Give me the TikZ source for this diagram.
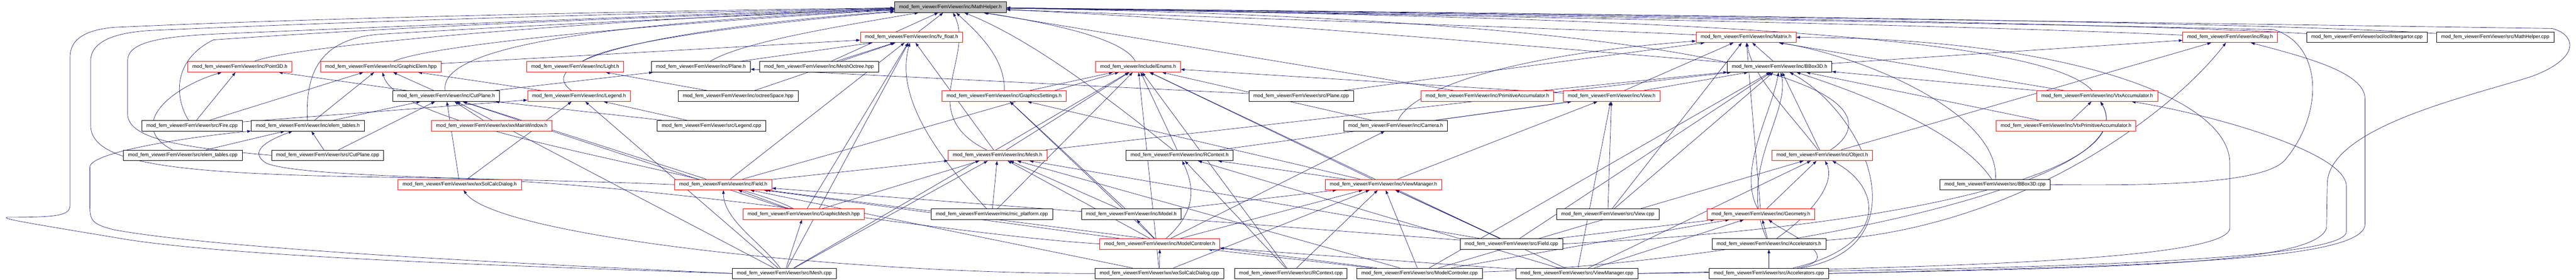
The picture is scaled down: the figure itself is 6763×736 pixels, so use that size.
\documentclass[tikz,border=0pt]{standalone}
\usepackage{fontspec}
\setmainfont{Liberation Sans}
\usetikzlibrary{arrows.meta,backgrounds}
\definecolor{edgeblue}{HTML}{191970}
\definecolor{rootgray}{HTML}{BFBFBF}

\begin{document}
\begin{tikzpicture}[x=1pt,y=-1pt,
  file/.style={draw=black,fill=white,line width=1pt,inner xsep=12pt,minimum height=28pt,
    font=\fontsize{13}{15}\selectfont},
  redfile/.style={file,draw=red},
  rootfile/.style={file,fill=rootgray},
  dep/.style={draw=edgeblue,line width=0.9pt,-{Triangle[length=10pt,width=7pt]}}]
\useasboundingbox (0,0) rectangle (6763,736);

%Draw Root
\node[rootfile] (mathh) at (2495,19) {mod\_fem\_viewer/FemViewer/inc/MathHelper.h};

%Draw First Row
\node[redfile] (fvfloat) at (2393,98) {mod\_fem\_viewer/FemViewer/inc/fv\_float.h};
\node[redfile] (matrix) at (4584,98) {mod\_fem\_viewer/FemViewer/inc/Matrix.h};
\node[redfile] (ray) at (5855,98) {mod\_fem\_viewer/FemViewer/inc/Ray.h};
\node[file] (oclint) at (6214,98) {mod\_fem\_viewer/FemViewer/ocl/oclIntergartor.cpp};
\node[file] (mathcpp) at (6551,98) {mod\_fem\_viewer/FemViewer/src/MathHelper.cpp};

%Draw Second Row
\node[redfile] (point3d) at (630,176) {mod\_fem\_viewer/FemViewer/inc/Point3D.h};
\node[redfile] (graphelem) at (1000,176) {mod\_fem\_viewer/FemViewer/inc/GraphicElem.hpp};
\node[redfile] (light) at (1510,176) {mod\_fem\_viewer/FemViewer/inc/Light.h};
\node[file] (plane) at (1840,176) {mod\_fem\_viewer/FemViewer/inc/Plane.h};
\node[file] (meshoctree) at (2150,176) {mod\_fem\_viewer/FemViewer/inc/MeshOctree.hpp};
\node[redfile] (enums) at (2988,176) {mod\_fem\_viewer/include/Enums.h};
\node[file] (bbox) at (4672,176) {mod\_fem\_viewer/FemViewer/inc/BBox3D.h};

%Draw Third Row
\node[file] (cutplaneh) at (1171,253) {mod\_fem\_viewer/FemViewer/inc/CutPlane.h};
\node[redfile] (legendh) at (1520,253) {mod\_fem\_viewer/FemViewer/inc/Legend.h};
\node[file] (octree) at (1938,253) {mod\_fem\_viewer/FemViewer/inc/octreeSpace.hpp};
\node[redfile] (gsettings) at (2636,253) {mod\_fem\_viewer/FemViewer/inc/GraphicsSettings.h};
\node[file] (planecpp) at (3416,253) {mod\_fem\_viewer/FemViewer/src/Plane.cpp};
\node[redfile] (primacc) at (3905,253) {mod\_fem\_viewer/FemViewer/inc/PrimitiveAccumulator.h};
\node[redfile] (viewh) at (4231,253) {mod\_fem\_viewer/FemViewer/inc/View.h};
\node[redfile] (vtxacc) at (5506,253) {mod\_fem\_viewer/FemViewer/inc/VtxAccumulator.h};

%Draw Fourth Row
\node[file] (firecpp) at (504,331) {mod\_fem\_viewer/FemViewer/src/Fire.cpp};
\node[file] (elemtablesh) at (808,331) {mod\_fem\_viewer/FemViewer/inc/elem\_tables.h};
\node[redfile] (wxmain) at (1291,331) {mod\_fem\_viewer/FemViewer/wx/wxMainWindow.h};
\node[file] (legendcpp) at (1868,331) {mod\_fem\_viewer/FemViewer/src/Legend.cpp};
\node[file] (camera) at (3664,331) {mod\_fem\_viewer/FemViewer/inc/Camera.h};
\node[redfile] (vtxprim) at (5424,331) {mod\_fem\_viewer/FemViewer/inc/VtxPrimitiveAccumulator.h};

%Draw Fifth Row
\node[file] (elemtablescpp) at (480,409) {mod\_fem\_viewer/FemViewer/src/elem\_tables.cpp};
\node[file] (cutplanecpp) at (860,409) {mod\_fem\_viewer/FemViewer/src/CutPlane.cpp};
\node[redfile] (meshh) at (2619,409) {mod\_fem\_viewer/FemViewer/inc/Mesh.h};
\node[file] (rcontexth) at (3097,409) {mod\_fem\_viewer/FemViewer/inc/RContext.h};
\node[redfile] (objecth) at (4784,409) {mod\_fem\_viewer/FemViewer/inc/Object.h};

%Draw Sixth Row
\node[redfile] (wxsolh) at (1207,486) {mod\_fem\_viewer/FemViewer/wx/wxSolCalcDialog.h};
\node[redfile] (fieldh) at (1899,486) {mod\_fem\_viewer/FemViewer/inc/Field.h};
\node[redfile] (viewmgrh) at (3632,486) {mod\_fem\_viewer/FemViewer/inc/ViewManager.h};
\node[file] (bboxcpp) at (5238,486) {mod\_fem\_viewer/FemViewer/src/BBox3D.cpp};

%Draw Seventh Row
\node[redfile] (graphmesh) at (2110,564) {mod\_fem\_viewer/FemViewer/inc/GraphicMesh.hpp};
\node[file] (micplat) at (2604,564) {mod\_fem\_viewer/FemViewer/mic/mic\_platform.cpp};
\node[file] (modelh) at (2970,564) {mod\_fem\_viewer/FemViewer/inc/Model.h};
\node[file] (viewcpp) at (4221,564) {mod\_fem\_viewer/FemViewer/src/View.cpp};
\node[redfile] (geometryh) at (4623,564) {mod\_fem\_viewer/FemViewer/inc/Geometry.h};

%Draw Eighth Row
\node[redfile] (modelctrlh) at (3045,642) {mod\_fem\_viewer/FemViewer/inc/ModelControler.h};
\node[file] (fieldcpp) at (3968,642) {mod\_fem\_viewer/FemViewer/src/Field.cpp};
\node[file] (accelh) at (4644,642) {mod\_fem\_viewer/FemViewer/inc/Accelerators.h};

%Draw Bottom Row
\node[file] (meshcpp) at (2059,720) {mod\_fem\_viewer/FemViewer/src/Mesh.cpp};
\node[file] (wxsolcpp) at (3044,720) {mod\_fem\_viewer/FemViewer/wx/wxSolCalcDialog.cpp};
\node[file] (rcontextcpp) at (3389,720) {mod\_fem\_viewer/FemViewer/src/RContext.cpp};
\node[file] (modelctrlcpp) at (3727,720) {mod\_fem\_viewer/FemViewer/src/ModelControler.cpp};
\node[file] (viewmgrcpp) at (4140,720) {mod\_fem\_viewer/FemViewer/src/ViewManager.cpp};
\node[file] (accelcpp) at (4644,720) {mod\_fem\_viewer/FemViewer/src/Accelerators.cpp};

\begin{pgfonlayer}{background}
%Draw First Row Edges
\draw[dep] (fvfloat) -- (mathh);
\draw[dep] (matrix) .. controls (4000,70) and (3000,40) .. (mathh);
\draw[dep] (ray) .. controls (5000,60) and (3500,35) .. (mathh);
\draw[dep] (oclint) .. controls (5500,55) and (3500,32) .. (mathh);
\draw[dep] (mathcpp) .. controls (5800,50) and (3500,30) .. (mathh);

%Draw Second Row Edges
\draw[dep] (point3d) .. controls (800,110) and (1800,40) .. (mathh);
\draw[dep] (graphelem) .. controls (1150,110) and (1900,50) .. (mathh);
\draw[dep] (graphelem) -- (fvfloat);
\draw[dep] (light) .. controls (1600,110) and (2000,60) .. (mathh);
\draw[dep] (plane) .. controls (1950,110) and (2200,70) .. (mathh);
\draw[dep] (plane) -- (fvfloat);
\draw[dep] (meshoctree) -- (mathh);
\draw[dep] (meshoctree) -- (fvfloat);
\draw[dep] (enums) .. controls (2950,100) and (2750,60) .. (mathh);
\draw[dep] (bbox) .. controls (4000,120) and (3200,50) .. (mathh);
\draw[dep] (bbox) -- (matrix);
\draw[dep] (bbox) -- (ray);

%Draw Third Row Edges
\draw[dep] (cutplaneh) .. controls (1150,120) and (1600,60) .. (mathh);
\draw[dep] (cutplaneh) -- (point3d);
\draw[dep] (cutplaneh) -- (graphelem);
\draw[dep] (cutplaneh) -- (plane);
\draw[dep] (legendh) .. controls (1380,150) and (1800,70) .. (mathh);
\draw[dep] (legendh) -- (graphelem);
\draw[dep] (octree) -- (light);
\draw[dep] (octree) -- (fvfloat);
\draw[dep] (gsettings) .. controls (2640,150) and (2560,80) .. (mathh);
\draw[dep] (gsettings) -- (enums);
\draw[dep] (planecpp) -- (plane);
\draw[dep] (planecpp) -- (matrix);
\draw[dep] (primacc) -- (mathh);
\draw[dep] (primacc) -- (bbox);
\draw[dep] (viewh) -- (enums);
\draw[dep] (viewh) -- (matrix);
\draw[dep] (viewh) -- (bbox);
\draw[dep] (vtxacc) .. controls (5350,80) and (4200,45) .. (mathh);
\draw[dep] (vtxacc) -- (matrix);
\draw[dep] (vtxacc) -- (bbox);

%Draw Fourth Row Edges
\draw[dep] (firecpp) .. controls (460,260) and (450,160) .. (560,105) .. controls (1200,60) and (2000,35) .. (mathh);
\draw[dep] (firecpp) -- (point3d);
\draw[dep] (firecpp) -- (graphelem);
\draw[dep] (firecpp) -- (legendh);
\draw[dep] (elemtablesh) .. controls (800,180) and (850,100) .. (1000,90) .. controls (1500,60) and (2100,35) .. (mathh);
\draw[dep] (elemtablesh) -- (graphelem);
\draw[dep] (elemtablesh) -- (cutplaneh);
\draw[dep] (wxmain) -- (cutplaneh);
\draw[dep] (legendcpp) -- (legendh);
\draw[dep] (legendcpp) -- (cutplaneh);
\draw[dep] (camera) .. controls (3700,250) and (3900,150) .. (matrix);
\draw[dep] (camera) -- (viewh);
\draw[dep] (camera) -- (enums);
\draw[dep] (vtxprim) -- (vtxacc);
\draw[dep] (vtxprim) -- (bbox);

%Draw Fifth Row Edges
\draw[dep] (elemtablescpp) .. controls (330,330) and (450,230) .. (point3d);
\draw[dep] (elemtablescpp) -- (elemtablesh);
\draw[dep] (cutplanecpp.west) .. controls (500,390) and (335,370) .. (335,300) -- (335,160) .. controls (335,110) and (420,95) .. (600,88) .. controls (1400,55) and (2000,30) .. (mathh);
\draw[dep] (cutplanecpp) -- (elemtablesh);
\draw[dep] (cutplanecpp) -- (cutplaneh);
\draw[dep] (meshh) .. controls (2400,300) and (2560,150) .. (mathh);
\draw[dep] (meshh) -- (fvfloat);
\draw[dep] (meshh) -- (enums);
\draw[dep] (meshh) -- (bbox);
\draw[dep] (rcontexth) .. controls (2900,250) and (2700,100) .. (mathh);
\draw[dep] (rcontexth) -- (enums);
\draw[dep] (rcontexth) -- (viewh);
\draw[dep] (objecth) .. controls (4950,300) and (4900,60) .. (mathh);
\draw[dep] (objecth) -- (bbox);
\draw[dep] (objecth) .. controls (4700,300) and (4600,200) .. (matrix);
\draw[dep] (objecth) -- (ray);

%Draw Sixth Row Edges
\draw[dep] (wxsolh) -- (cutplaneh);
\draw[dep] (wxsolh) -- (legendh);
\draw[dep] (fieldh) -- (cutplaneh);
\draw[dep] (fieldh) -- (fvfloat);
\draw[dep] (fieldh) -- (meshh);
\draw[dep] (fieldh) -- (enums);
\draw[dep] (fieldh.west) .. controls (1400,470) and (800,470) .. (700,430) .. controls (650,400) and (700,370) .. (elemtablesh);
\draw[dep] (viewmgrh) -- (viewh);
\draw[dep] (viewmgrh) -- (enums);
\draw[dep] (viewmgrh) -- (gsettings);
\draw[dep] (viewmgrh) -- (rcontexth);
\draw[dep] (bboxcpp) .. controls (5150,350) and (4900,250) .. (bbox);
\draw[dep] (bboxcpp) .. controls (5250,300) and (4900,150) .. (matrix);
\draw[dep] (bboxcpp.east) .. controls (5700,490) and (5950,480) .. (6000,420) .. controls (6100,300) and (6100,120) .. (5970,78) .. controls (5000,55) and (3500,35) .. (mathh);

%Draw Seventh Row Edges
\draw[dep] (graphmesh) -- (fieldh);
\draw[dep] (graphmesh) .. controls (1900,450) and (1050,350) .. (graphelem);
\draw[dep] (graphmesh) -- (meshh);
\draw[dep] (graphmesh) -- (fvfloat);
\draw[dep] (graphmesh) -- (cutplaneh);
\draw[dep] (micplat) -- (meshh);
\draw[dep] (micplat) -- (enums);
\draw[dep] (micplat) .. controls (2450,400) and (2350,250) .. (fvfloat);
\draw[dep] (modelh) -- (meshh);
\draw[dep] (modelh) -- (viewmgrh);
\draw[dep] (modelh) -- (gsettings);
\draw[dep] (viewcpp) -- (viewh);
\draw[dep] (viewcpp) -- (bbox);
\draw[dep] (viewcpp) -- (matrix);
\draw[dep] (geometryh) .. controls (4560,450) and (4650,300) .. (bbox);
\draw[dep] (geometryh) -- (objecth);
\draw[dep] (geometryh) -- (matrix);

%Draw Eighth Row Edges
\draw[dep] (modelctrlh) -- (gsettings);
\draw[dep] (modelctrlh) .. controls (3150,550) and (3130,480) .. (rcontexth);
\draw[dep] (modelctrlh) -- (meshh);
\draw[dep] (modelctrlh) -- (modelh);
\draw[dep] (modelctrlh) -- (viewmgrh);
\draw[dep] (modelctrlh) -- (camera);
\draw[dep] (modelctrlh) -- (fieldh);
\draw[dep] (modelctrlh.west) .. controls (2500,620) and (1700,472) .. (1100,468) .. controls (500,460) and (238,440) .. (238,330) -- (238,160) .. controls (238,110) and (300,85) .. (400,80) .. controls (1200,45) and (2000,28) .. (mathh);
\draw[dep] (fieldcpp) -- (fieldh);
\draw[dep] (fieldcpp) -- (viewmgrh);
\draw[dep] (fieldcpp) -- (meshh);
\draw[dep] (fieldcpp) -- (enums);
\draw[dep] (fieldcpp) -- (bbox);
\draw[dep] (fieldcpp) -- (geometryh);
\draw[dep] (fieldcpp.east) .. controls (5000,600) and (5620,450) .. (vtxacc);
\draw[dep] (accelh) -- (geometryh);
\draw[dep] (accelh) .. controls (4760,560) and (4820,480) .. (objecth);
\draw[dep] (accelh) .. controls (4560,450) and (4700,300) .. (bbox);
\draw[dep] (accelh) .. controls (5300,600) and (5700,300) .. (ray);

%Draw Bottom Row Edges
\draw[dep] (meshcpp) -- (meshh);
\draw[dep] (meshcpp) .. controls (2000,640) and (1900,580) .. (fieldh);
\draw[dep] (meshcpp) -- (graphmesh);
\draw[dep] (meshcpp) -- (enums);
\draw[dep] (meshcpp) -- (fvfloat);
\draw[dep] (meshcpp) -- (cutplaneh);
\draw[dep] (meshcpp) -- (legendh);
\draw[dep] (meshcpp.west) .. controls (1500,705) and (600,680) .. (300,625) .. controls (60,585) and (0,575) .. (20,572) .. controls (150,572) and (184,568) .. (184,540) -- (184,150) .. controls (184,100) and (230,78) .. (300,72) .. controls (1000,40) and (2000,25) .. (mathh);
\draw[dep] (meshcpp.west) .. controls (1500,700) and (600,660) .. (300,605) .. controls (240,590) and (236,580) .. (236,540) -- (236,440) .. controls (236,400) and (500,360) .. (elemtablesh);
\draw[dep] (wxsolcpp) -- (modelctrlh);
\draw[dep] (wxsolcpp) .. controls (2200,720) and (1300,620) .. (wxsolh);
\draw[dep] (wxsolcpp) -- (fieldh);
\draw[dep] (wxsolcpp) -- (viewmgrh);
\draw[dep] (wxsolcpp) -- (enums);
\draw[dep] (rcontextcpp) -- (rcontexth);
\draw[dep] (rcontextcpp) -- (viewmgrh);
\draw[dep] (rcontextcpp) -- (enums);
\draw[dep] (modelctrlcpp) -- (modelctrlh);
\draw[dep] (modelctrlcpp) -- (viewmgrh);
\draw[dep] (modelctrlcpp) -- (meshh);
\draw[dep] (modelctrlcpp) -- (fieldh);
\draw[dep] (modelctrlcpp) -- (objecth);
\draw[dep] (modelctrlcpp) -- (geometryh);
\draw[dep] (modelctrlcpp) -- (bbox);
\draw[dep] (modelctrlcpp) .. controls (4500,700) and (5650,500) .. (vtxacc);
\draw[dep] (viewmgrcpp) -- (viewmgrh);
\draw[dep] (viewmgrcpp) -- (viewh);
\draw[dep] (viewmgrcpp) -- (rcontexth);
\draw[dep] (viewmgrcpp) -- (geometryh);
\draw[dep] (viewmgrcpp) -- (objecth);
\draw[dep] (viewmgrcpp) -- (modelctrlh);
\draw[dep] (viewmgrcpp.east) .. controls (5000,712) and (6160,700) .. (6160,610) -- (6160,490) .. controls (6160,400) and (5800,300) .. (vtxacc);
\draw[dep] (viewmgrcpp.east) .. controls (5000,705) and (5854,690) .. (5854,600) -- (5854,430) .. controls (5854,250) and (5400,100) .. (matrix);
\draw[dep] (accelcpp) -- (accelh);
\draw[dep] (accelcpp) .. controls (4850,680) and (4700,620) .. (geometryh);
\draw[dep] (accelcpp) .. controls (4950,650) and (4950,500) .. (objecth);
\draw[dep] (accelcpp) .. controls (5050,650) and (4900,300) .. (bbox);
\draw[dep] (accelcpp.east) .. controls (5600,700) and (6209,690) .. (6209,590) -- (6209,260) .. controls (6209,190) and (6050,150) .. (ray);
\draw[dep] (accelcpp.east) .. controls (5500,705) and (6080,700) .. (6108,600) -- (6110,480) .. controls (6120,330) and (6500,250) .. (6650,200) .. controls (6780,150) and (6760,90) .. (6700,75) .. controls (5000,50) and (3500,30) .. (mathh);
\end{pgfonlayer}

\end{tikzpicture}
\end{document}
